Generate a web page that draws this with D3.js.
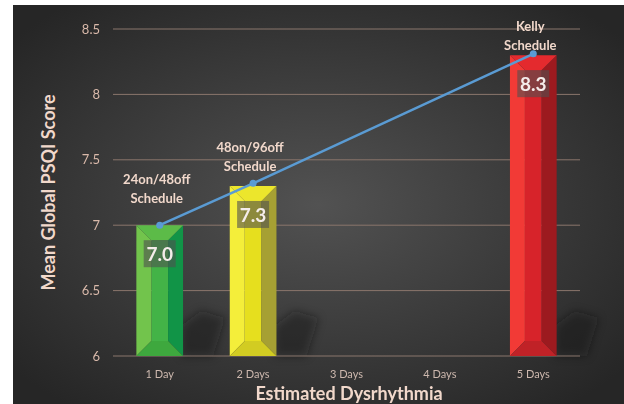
<!DOCTYPE html>
<html>
<head>
<meta charset="utf-8">
<script src="https://cdn.jsdelivr.net/npm/d3@7"></script>
<style>
  html, body { margin: 0; padding: 0; background: #fff; }
  svg { display: block; }
</style>
</head>
<body>
<div id="chart"></div>
<script>
// Data
const categories = ["1 Day", "2 Days", "3 Days", "4 Days", "5 Days"];
const barCategories = ["1 Day", "2 Days", "5 Days"];
const barValues = [7.0, 7.3, 8.3];
const barLabels = ["7.0", "7.3", "8.3"];
const lineValues = [7.0, 7.32, 8.31];
const scheduleNames = [["24on/48off", "Schedule"], ["48on/96off", "Schedule"], ["Kelly", "Schedule"]];
const yTicks = [6, 6.5, 7, 7.5, 8, 8.5];

const W = 624, H = 404;
const font = "Lato, 'Open Sans', sans-serif";

// Bar colours: [left face, centre, right face, top, bottom]
const palettes = [
  ["#72c44c", "#43b347", "#119447", "#5cbb48", "#3ea83e"],
  ["#f4ee3a", "#e6df1e", "#a6a033", "#ece62c", "#d2cc22"],
  ["#f23a36", "#d7232a", "#9c1a1f", "#e42a2e", "#c02227"]
];
// vertical offset of the first annotation line above each bar top
const noteOffsets = [-46, -39, -29];

const svg = d3.select("#chart").append("svg")
  .attr("width", W)
  .attr("height", H);

// Dark radial background
const defs = svg.append("defs");
const bg = defs.append("radialGradient")
  .attr("id", "bg")
  .attr("cx", "50%").attr("cy", "50%").attr("r", "65%");
bg.append("stop").attr("offset", "0%").attr("stop-color", "#525252");
bg.append("stop").attr("offset", "100%").attr("stop-color", "#262626");

defs.append("filter")
  .attr("id", "soft")
  .attr("x", "-50%").attr("y", "-50%").attr("width", "200%").attr("height", "200%")
  .append("feGaussianBlur").attr("stdDeviation", 4);

svg.append("rect")
  .attr("x", 13).attr("y", 5)
  .attr("width", W - 13).attr("height", H - 5)
  .attr("fill", "url(#bg)");

const x = d3.scaleBand()
  .domain(categories)
  .range([113, 580])
  .paddingInner(0.5)
  .paddingOuter(0.25);

const y = d3.scaleLinear()
  .domain([6, 8.5])
  .range([356, 29]);

// Soft shadows behind bars
const shadows = svg.append("g").attr("filter", "url(#soft)");
barCategories.forEach((c, i) => {
  const x1 = x(c) + x.bandwidth();
  const base = y(6);
  shadows.append("polygon")
    .attr("points", [
      [x1 - 2, base], [x1 - 2, base - 30], [x1 + 18, base - 45],
      [x1 + 42, base - 38], [x1 + 30, base]
    ].map(p => p.join(",")).join(" "))
    .attr("fill", "#1a1a1a")
    .attr("opacity", 0.45);
});

// Gridlines
svg.append("g")
  .selectAll("line")
  .data(yTicks)
  .join("line")
  .attr("x1", 113).attr("x2", 580)
  .attr("y1", d => y(d)).attr("y2", d => y(d))
  .attr("stroke", "#8a766c")
  .attr("stroke-width", 1);

// Y tick labels
svg.append("g")
  .selectAll("text")
  .data(yTicks)
  .join("text")
  .attr("x", 100)
  .attr("y", d => y(d))
  .attr("dy", "0.35em")
  .attr("text-anchor", "end")
  .style("font-family", font)
  .style("font-size", "13px")
  .style("fill", "#d9b9aa")
  .text(d => d);

// X tick labels
svg.append("g")
  .selectAll("text")
  .data(categories)
  .join("text")
  .attr("x", d => x(d) + x.bandwidth() / 2)
  .attr("y", 378)
  .attr("text-anchor", "middle")
  .style("font-family", font)
  .style("font-size", "11px")
  .style("fill", "#cdb8ae")
  .text(d => d);

// Bevelled bars
const bars = svg.append("g");
barCategories.forEach((c, i) => {
  const x0 = x(c), w = x.bandwidth(), x1 = x0 + w;
  const y0 = y(barValues[i]), y1 = y(6);
  const inset = w * 0.32, v = w * 0.32;
  const pal = palettes[i];
  const g = bars.append("g");
  const poly = (pts, fill) => g.append("polygon")
    .attr("points", pts.map(p => p.join(",")).join(" "))
    .attr("fill", fill);
  poly([[x0 + inset, y0 + v], [x1 - inset, y0 + v], [x1 - inset, y1 - v], [x0 + inset, y1 - v]], pal[1]);
  poly([[x0, y0], [x0 + inset, y0 + v], [x0 + inset, y1 - v], [x0, y1]], pal[0]);
  poly([[x1, y0], [x1 - inset, y0 + v], [x1 - inset, y1 - v], [x1, y1]], pal[2]);
  poly([[x0, y0], [x1, y0], [x1 - inset, y0 + v], [x0 + inset, y0 + v]], pal[3]);
  poly([[x0, y1], [x1, y1], [x1 - inset, y1 - v], [x0 + inset, y1 - v]], pal[4]);

  // Value label box
  const cx = x0 + w / 2;
  g.append("rect")
    .attr("x", cx - 16).attr("y", y0 + 15)
    .attr("width", 32).attr("height", 27)
    .attr("fill", "#505050")
    .attr("opacity", 0.6);
  g.append("text")
    .attr("x", cx).attr("y", y0 + 29)
    .attr("dy", "0.35em")
    .attr("text-anchor", "middle")
    .style("font-family", font)
    .style("font-weight", "bold")
    .style("font-size", "19px")
    .style("fill", "#f4ecea")
    .text(barLabels[i]);
});

// Trend line
const line = d3.line()
  .x((d, i) => x(barCategories[i]) + x.bandwidth() / 2)
  .y(d => y(d));

svg.append("path")
  .datum(lineValues)
  .attr("d", line)
  .attr("fill", "none")
  .attr("stroke", "#5a9bd3")
  .attr("stroke-width", 2.5);

svg.append("g")
  .selectAll("circle")
  .data(lineValues)
  .join("circle")
  .attr("cx", (d, i) => x(barCategories[i]) + x.bandwidth() / 2)
  .attr("cy", d => y(d))
  .attr("r", 3.5)
  .attr("fill", "#5a9bd3");

// Schedule annotations
scheduleNames.forEach((lines, i) => {
  const cx = x(barCategories[i]) + x.bandwidth() / 2 - 3;
  const top = y(barValues[i]);
  lines.forEach((t, j) => {
    svg.append("text")
      .attr("x", cx)
      .attr("y", top + noteOffsets[i] + j * 19)
      .attr("dy", "0.35em")
      .attr("text-anchor", "middle")
      .style("font-family", font)
      .style("font-weight", "bold")
      .style("font-size", "13px")
      .style("fill", "#f1d8cb")
      .text(t);
  });
});

// Axis titles
svg.append("text")
  .attr("transform", "translate(55," + y(7.25) + ") rotate(-90)")
  .attr("text-anchor", "middle")
  .style("font-family", font)
  .style("font-weight", "bold")
  .style("font-size", "18px")
  .style("fill", "#f1d8cb")
  .text("Mean Global PSQI Score");

svg.append("text")
  .attr("x", 349)
  .attr("y", 400)
  .attr("text-anchor", "middle")
  .style("font-family", font)
  .style("font-weight", "bold")
  .style("font-size", "18px")
  .style("fill", "#f1d8cb")
  .text("Estimated Dysrhythmia");
</script>
</body>
</html>
